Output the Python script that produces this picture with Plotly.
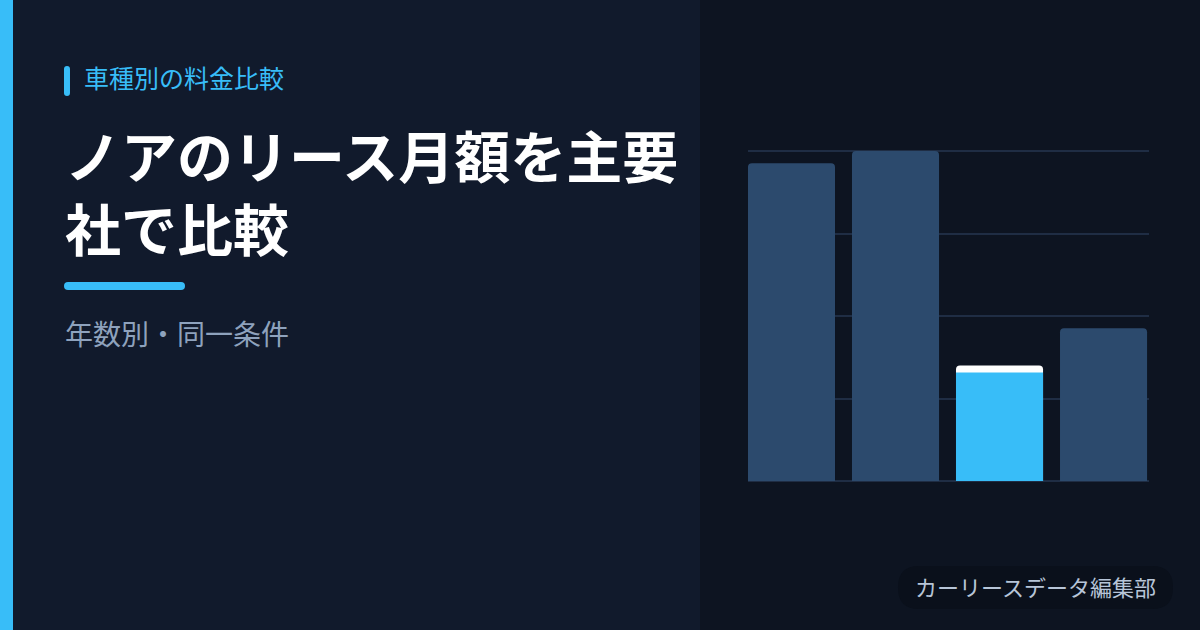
import plotly.graph_objects as go

W, H = 1200, 630

# データ（月額リース料・円）
companies = ["A社", "B社", "C社", "D社"]
monthly_fee = [38500, 40000, 14000, 18500]
highlight = "C社"
y_ticks = [0, 10000, 20000, 30000, 40000]

kicker = "車種別の料金比較"
title_lines = ["ノアのリース月額を主要", "社で比較"]
subtitle = "年数別・同一条件"
footer = "カーリースデータ編集部"

# 色
BG_LEFT = "#111a2c"
BG_RIGHT = "#0d1421"
ACCENT = "#38bdf8"
BAR = "#2c4a6d"
GRID = "#1f2d44"
FONT = "Noto Sans CJK JP"


def px(x):
    return x / W


def py(y):
    return 1 - y / H


def rounded_rect(x0, y0, x1, y1, r):
    # 角丸の矩形（ピクセル座標 -> paper座標）
    pts = [
        ("M", [(x0 + r, y0)]),
        ("L", [(x1 - r, y0)]),
        ("Q", [(x1, y0), (x1, y0 + r)]),
        ("L", [(x1, y1 - r)]),
        ("Q", [(x1, y1), (x1 - r, y1)]),
        ("L", [(x0 + r, y1)]),
        ("Q", [(x0, y1), (x0, y1 - r)]),
        ("L", [(x0, y0 + r)]),
        ("Q", [(x0, y0), (x0 + r, y0)]),
    ]
    s = ""
    for cmd, coords in pts:
        s += cmd + " ".join(f"{px(a):.5f},{py(b):.5f}" for a, b in coords) + " "
    return s + "Z"


fig = go.Figure()

colors = ["#ffffff" if c == highlight else BAR for c in companies]
fig.add_trace(go.Bar(x=companies, y=monthly_fee, marker=dict(color=colors, line=dict(width=0)),
                     hoverinfo="skip"))

# ハイライトバー（上端の白いキャップを残す）
cap = 7 * (y_ticks[-1] - y_ticks[0]) / 330
hl_values = [v - cap if c == highlight else None for c, v in zip(companies, monthly_fee)]
fig.add_trace(go.Bar(x=companies, y=hl_values, marker=dict(color=ACCENT, line=dict(width=0)),
                     hoverinfo="skip"))

shapes = [
    dict(type="rect", xref="paper", yref="paper", x0=0, x1=px(700), y0=0, y1=1,
         fillcolor=BG_LEFT, line=dict(width=0), layer="below"),
    dict(type="rect", xref="paper", yref="paper", x0=px(700), x1=1, y0=0, y1=1,
         fillcolor=BG_RIGHT, line=dict(width=0), layer="below"),
    dict(type="rect", xref="paper", yref="paper", x0=0, x1=px(13), y0=0, y1=1,
         fillcolor=ACCENT, line=dict(width=0), layer="below"),
    dict(type="path", xref="paper", yref="paper", path=rounded_rect(64, 66, 70, 96, 3),
         fillcolor=ACCENT, line=dict(width=0), layer="below"),
    dict(type="path", xref="paper", yref="paper", path=rounded_rect(64, 282, 185, 290, 4),
         fillcolor=ACCENT, line=dict(width=0), layer="below"),
    dict(type="path", xref="paper", yref="paper", path=rounded_rect(898, 566, 1173, 609, 21),
         fillcolor="#0a101b", line=dict(width=0), layer="below"),
]

annotations = [
    dict(text=kicker, x=px(82), y=py(77), xanchor="left", yanchor="middle",
         font=dict(family=FONT, size=25, color=ACCENT)),
    dict(text="<b>" + title_lines[0] + "</b>", x=px(63), y=py(153),
         xanchor="left", yanchor="middle",
         font=dict(family=FONT, size=56, color="#ffffff")),
    dict(text="<b>" + title_lines[1] + "</b>", x=px(63), y=py(226),
         xanchor="left", yanchor="middle",
         font=dict(family=FONT, size=56, color="#ffffff")),
    dict(text=subtitle, x=px(63), y=py(333), xanchor="left", yanchor="middle",
         font=dict(family=FONT, size=28, color="#8ea2bd")),
    dict(text=footer, x=px(1035.5), y=py(585.5), xanchor="center", yanchor="middle",
         font=dict(family=FONT, size=22, color="#b7c5d8")),
]
for a in annotations:
    a.update(xref="paper", yref="paper", showarrow=False)

# 上端のグリッド線が消えないよう少し余白をとる
y_top = y_ticks[-1] * 1.005
fig.update_layout(
    width=W, height=H,
    margin=dict(l=0, r=0, t=0, b=0),
    paper_bgcolor=BG_LEFT,
    plot_bgcolor="rgba(0,0,0,0)",
    barmode="overlay",
    bargap=0.163,
    barcornerradius=4,
    showlegend=False,
    shapes=shapes,
    annotations=annotations,
    xaxis=dict(domain=[px(748), px(1149)], range=[-0.418, 3.437], showgrid=False,
               zeroline=False, showticklabels=False, fixedrange=True),
    yaxis=dict(domain=[py(481), py(151 - 330 * 0.005)], range=[y_ticks[0], y_top], tickvals=y_ticks,
               showgrid=True, gridcolor=GRID, gridwidth=2, zeroline=True,
               zerolinecolor=GRID, zerolinewidth=2, showticklabels=False, fixedrange=True),
)

fig.write_html("out.html", config={"displayModeBar": False},
               post_script="document.body.style.margin='0';document.body.style.overflow='hidden';")
